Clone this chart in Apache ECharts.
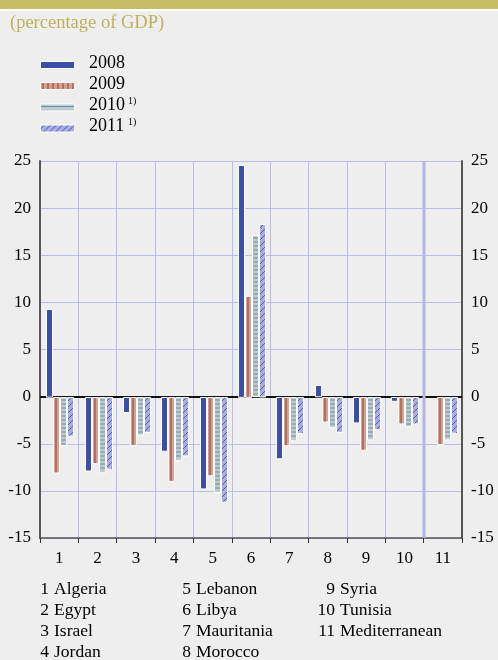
<!DOCTYPE html>
<html>
<head>
<meta charset="utf-8">
<script src="https://cdn.jsdelivr.net/npm/echarts@6/dist/echarts.min.js"></script>
<style>
  html, body { margin: 0; padding: 0; background: #eeeeee; }
  #chart { width: 498px; height: 660px; }
</style>
</head>
<body>
<div id="chart"></div>
<script>
// data
const categories = ['1', '2', '3', '4', '5', '6', '7', '8', '9', '10', '11'];
const countries = ['Algeria', 'Egypt', 'Israel', 'Jordan', 'Lebanon', 'Libya',
  'Mauritania', 'Morocco', 'Syria', 'Tunisia', 'Mediterranean'];
const years = ['2008', '2009', '2010', '2011'];
const notes = ['', '', '1)', '1)'];
const y2008 = [9.3, -7.8, -1.6, -5.7, -9.7, 24.6, -6.5, 1.2, -2.7, -0.4, null];
const y2009 = [-8.0, -7.0, -5.1, -8.9, -8.3, 10.7, -5.1, -2.6, -5.6, -2.8, -5.0];
const y2010 = [-5.1, -8.0, -4.0, -6.7, -10.1, 17.1, -4.6, -3.2, -4.5, -3.1, -4.5];
const y2011 = [-4.1, -7.6, -3.7, -6.2, -11.1, 18.3, -3.8, -3.7, -3.4, -2.8, -3.8];
const yTicks = { min: -15, max: 25, step: 5 };

const allSeries = [y2008, y2009, y2010, y2011];
const FONT = 'Liberation Serif';
const fills = ['#3b4fa6', '#d3a290', '#bccbd2', '#a9ade0'];
const strokes = [null, '#9b3b2c', '#6d8e9b', '#4e5bb8'];
const grid = '#b9bde8';

// draws one patterned rectangle (used by bars and by legend swatches)
function swatch(s, x, y, w, h) {
  const kids = [{
    type: 'rect', shape: { x: x, y: y, width: w, height: h },
    style: { fill: fills[s], stroke: '#fff', lineWidth: 1 }
  }];
  const ln = (x1, y1, x2, y2) => kids.push({
    type: 'line', shape: { x1: x1, y1: y1, x2: x2, y2: y2 },
    style: { stroke: strokes[s], lineWidth: 1 }
  });
  if (s === 1) {
    for (let cx = x + 2.5; cx < x + w - 1; cx += 5) ln(cx, y + 0.5, cx, y + h - 0.5);
  } else if (s === 2) {
    for (let cy = y + 2.5; cy < y + h - 1; cy += 4) ln(x + 0.5, cy, x + w - 0.5, cy);
  } else if (s === 3) {
    const x0 = x + 0.5, x1 = x + w - 0.5, y0 = y + 0.5, y1 = y + h - 0.5;
    for (let c = x0 + y0 + 3; c < x1 + y1; c += 6) {
      const a = Math.max(x0, c - y1), b = Math.min(x1, c - y0);
      if (b > a) ln(a, c - a, b, c - b);
    }
  }
  return kids;
}

function barRenderer(s) {
  return function (params, api) {
    const idx = api.value(0), v = api.value(1);
    if (v == null || isNaN(v)) return;
    const base = api.coord([idx, 0]);
    const top = api.coord([idx, v]);
    const x = Math.round(base[0]) - 13 + s * 7;
    const y = Math.round(Math.min(base[1], top[1])) + 0.5;
    const h = Math.max(1, Math.abs(base[1] - top[1]));
    return { type: 'group', children: swatch(s, x + 0.5, y, 6, h) };
  };
}

const chart = echarts.init(document.getElementById('chart'));

const graphics = [
  { type: 'rect', shape: { x: 0, y: 0, width: 498, height: 9 }, style: { fill: '#c8bd67' } },
  { type: 'rect', shape: { x: 0, y: 9, width: 498, height: 2 }, style: { fill: '#ffffff' } },
  { type: 'text', left: 10, top: 14, style: { text: '(percentage of GDP)', font: '18.5px ' + FONT, fill: '#bdb25c' } }
];
const rowY = [64.5, 85.5, 107, 128];
years.forEach((yr, s) => {
  graphics.push({ type: 'group', children: swatch(s, 40.5, rowY[s] - 3, 34, 7) });
  graphics.push({ type: 'text', x: 89, y: rowY[s] - 1.5,
    style: { text: yr, font: '18px ' + FONT, fill: '#000', verticalAlign: 'middle' } });
  if (notes[s]) {
    graphics.push({ type: 'text', x: 128, y: rowY[s] - 6,
      style: { text: notes[s], font: '10px ' + FONT, fill: '#000', verticalAlign: 'middle' } });
  }
});
const colRight = [49, 191, 335];
const rowsList = [589, 610, 631, 652];
countries.forEach((name, i) => {
  const col = Math.floor(i / 4), row = i % 4;
  graphics.push({ type: 'text', x: colRight[col], y: rowsList[row],
    style: { text: categories[i], font: '17.5px ' + FONT, fill: '#000', align: 'right', verticalAlign: 'middle' } });
  graphics.push({ type: 'text', x: colRight[col] + 5, y: rowsList[row],
    style: { text: name, font: '17.5px ' + FONT, fill: '#000', verticalAlign: 'middle' } });
});

const yAxisBase = {
  type: 'value', min: yTicks.min, max: yTicks.max, interval: yTicks.step,
  axisLine: { show: true, lineStyle: { color: '#555', width: 2 } },
  axisTick: { show: false },
  axisLabel: { color: '#000', fontFamily: FONT, fontSize: 17, margin: 9 },
  splitLine: { show: true, lineStyle: { color: grid, width: 1 } }
};

chart.setOption({
  backgroundColor: '#eeeeee',
  animation: false,
  grid: { left: 40, right: 36, top: 161, bottom: 122 },
  xAxis: {
    type: 'category', data: categories, position: 'bottom',
    axisLine: { onZero: false, lineStyle: { color: '#555', width: 1.5 } },
    axisTick: { show: true, length: 5, lineStyle: { color: '#333' } },
    axisLabel: { color: '#000', fontFamily: FONT, fontSize: 17, margin: 12 },
    splitLine: { show: true, lineStyle: { color: grid, width: 1 } }
  },
  yAxis: [
    Object.assign({}, yAxisBase, { position: 'left' }),
    Object.assign({}, yAxisBase, { position: 'right', splitLine: { show: false } })
  ],
  graphic: graphics,
  series: [
    {
      // zero line, behind the bars
      type: 'custom', z: 1, silent: true, data: [[0, 0]],
      renderItem: function (params, api) {
        const y = Math.round(api.coord([0, 0])[1]);
        const cs = params.coordSys;
        return { type: 'line', shape: { x1: cs.x, y1: y, x2: cs.x + cs.width, y2: y },
          style: { stroke: '#111', lineWidth: 2 } };
      }
    },
    {
      // wider divider before the Mediterranean aggregate
      type: 'custom', z: 1, silent: true, data: [[categories.length - 1, 0]],
      renderItem: function (params, api) {
        const bw = api.size([1, 0])[0];
        const x = Math.round(api.coord([api.value(0), 0])[0] - bw / 2);
        const cs = params.coordSys;
        return { type: 'line', shape: { x1: x, y1: cs.y, x2: x, y2: cs.y + cs.height },
          style: { stroke: '#b3b6e3', lineWidth: 3 } };
      }
    }
  ].concat(allSeries.map((vals, s) => ({
    name: years[s], type: 'custom', z: 3,
    encode: { x: 0, y: 1 },
    data: vals.map((v, i) => [i, v == null ? NaN : v]),
    renderItem: barRenderer(s)
  })))
});
</script>
</body>
</html>
